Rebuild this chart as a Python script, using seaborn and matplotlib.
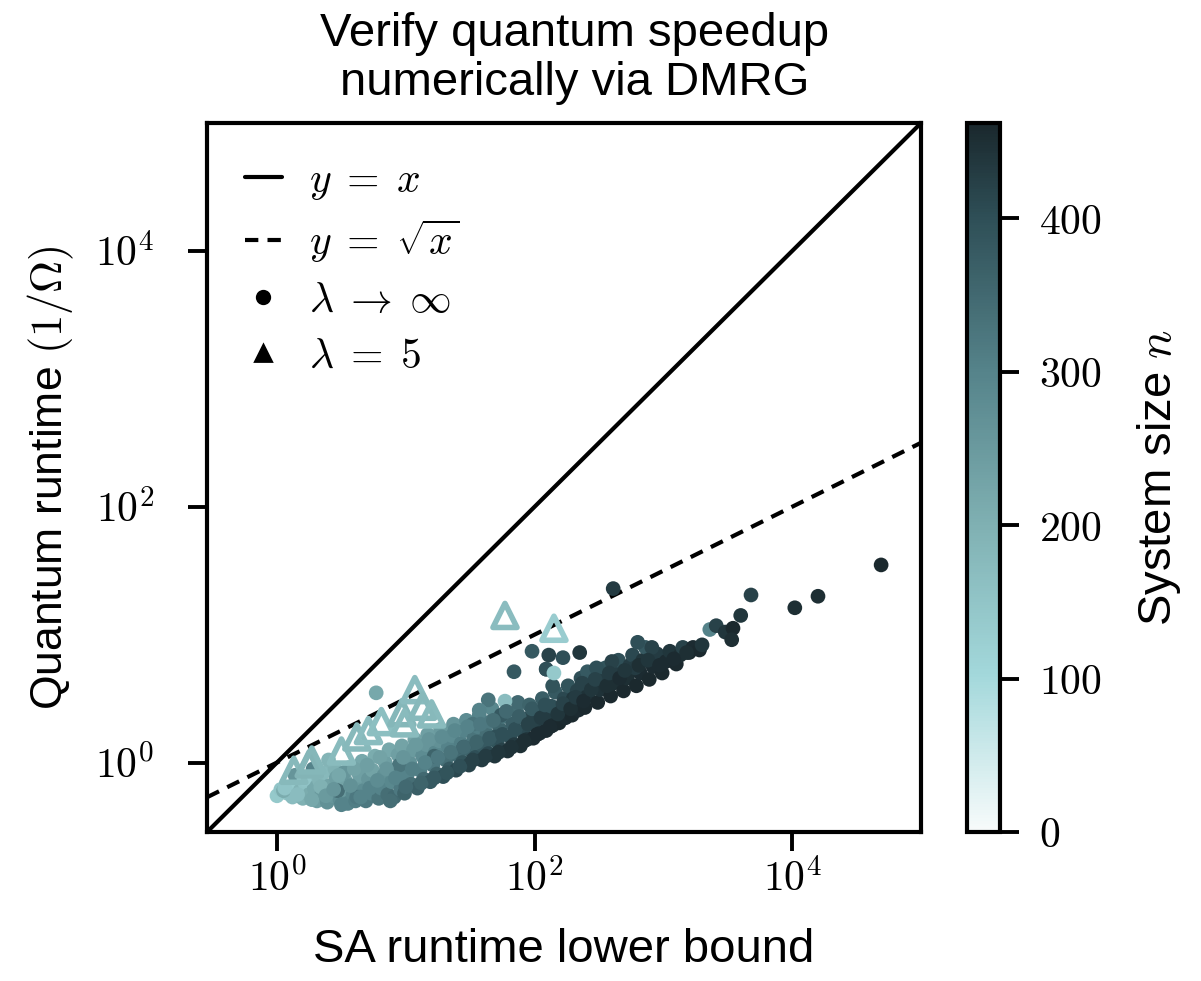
import numpy as np
import matplotlib
matplotlib.use("Agg")
import matplotlib.pyplot as plt
import seaborn as sns
import pandas as pd
from matplotlib.colors import LinearSegmentedColormap, Normalize
from matplotlib.lines import Line2D
from matplotlib.ticker import FixedLocator, FuncFormatter, NullLocator
import matplotlib.cm as cm

sns.set_theme(style="ticks")
plt.rcParams['font.family'] = ['Liberation Sans', 'DejaVu Sans']
plt.rcParams['mathtext.fontset'] = 'cm'
for key in ["text.color", "axes.labelcolor", "xtick.color", "ytick.color",
            "axes.edgecolor"]:
    plt.rcParams[key] = "black"

# ---------------- data (log10 of runtimes, system size n) ----------------
# lambda -> infinity (circles)
circ_log_sa = [
    0.00, 0.03, 0.08, 0.10, 0.12, 0.15, 0.18, 0.20, 0.22, 0.25, 0.26,
    0.29, 0.31, 0.33, 0.35, 0.36, 0.39, 0.41, 0.43, 0.45, 0.46, 0.40,
    0.49, 0.51, 0.53, 0.55, 0.56, 0.52, 0.59, 0.61, 0.63, 0.64, 0.66, 0.67,
    0.69, 0.71, 0.73, 0.74, 0.76, 0.77, 0.79, 0.81, 0.83, 0.84, 0.86, 0.87,
    0.89, 0.91, 0.93, 0.94, 0.96, 0.97, 0.99, 1.01, 1.03, 1.04, 1.06, 1.07,
    1.09, 1.11, 1.13, 1.14, 1.16, 1.17, 1.19, 1.21, 1.23, 1.24, 1.26, 1.27,
    1.29, 1.31, 1.33, 1.34, 1.36, 1.37, 1.39, 1.41, 1.43, 1.44, 1.46, 1.47,
    1.49, 1.51, 1.53, 1.54, 1.56, 1.57, 1.59, 1.61, 1.63, 1.64, 1.66, 1.67,
    1.69, 1.71, 1.73, 1.74, 1.76, 1.79, 1.81, 1.83, 1.84, 1.86, 1.87,
    1.89, 1.91, 1.93, 1.94, 1.96, 1.99, 2.01, 2.03, 2.04, 2.06,
    2.09, 2.11, 2.13, 2.14, 2.16, 2.19, 2.21, 2.23, 2.24, 2.26,
    2.29, 2.31, 2.33, 2.34, 2.36, 2.39, 2.41, 2.43, 2.45,
    2.49, 2.51, 2.53, 2.55, 2.59, 2.61, 2.63, 2.65, 2.69, 2.72, 2.74, 2.76,
    2.79, 2.82, 2.84, 2.86, 2.89, 2.92, 2.95, 2.99, 3.02, 3.05,
    3.10, 3.13, 3.15, 3.20, 3.23, 3.28, 3.30,
    2.09, 2.41, 2.48, 2.60, 2.78, 2.37, 2.14, 1.64, 1.57, 1.77, 1.74, 1.52,
    1.98, 2.11, 2.22, 2.35, 1.84, 2.09, 2.15, 0.77, 2.61, 2.80, 2.91,
    3.36, 3.41, 3.48, 3.54, 3.53, 3.60, 3.68, 4.02, 4.20, 4.69,
    0.05, 0.14, 0.28, 0.47, 0.62, 0.95, 1.22, 1.45, 1.70, 1.95, 2.30,
    0.06, 0.16, 0.21, 0.27, 0.34, 0.38, 0.44, 0.48, 0.50, 0.57, 0.60, 0.65,
    0.70, 0.72, 0.78, 0.80, 0.85, 0.88, 0.92, 0.98, 1.00, 1.05, 1.08, 1.12,
    1.15, 1.18, 1.22, 1.25, 1.28, 1.32, 1.35, 1.38, 1.42, 1.45, 1.48, 1.52,
    1.55, 1.58, 1.62, 1.65, 1.68, 1.72, 1.75, 1.78, 1.82, 1.85, 1.88, 1.92,
    1.95, 1.98, 2.02, 2.05, 2.08, 2.12, 2.18, 2.22, 2.28, 2.32, 2.38, 2.44,
    2.47, 2.56, 2.58, 2.66, 2.70, 2.81, 2.88, 2.97, 3.08, 3.18,
]
circ_log_q = [
    -0.26, -0.21, -0.24, -0.19, -0.27, -0.15, -0.22, -0.28, -0.17, -0.25, -0.12,
    -0.20, -0.30, -0.14, -0.24, -0.08, -0.31, -0.18, -0.26, -0.05, -0.12, 0.02,
    -0.29, -0.21, -0.14, -0.32, -0.04, -0.08, -0.25, -0.30, -0.17, -0.10, 0.01, -0.22,
    -0.30, -0.13, -0.24, -0.06, 0.05, -0.18, -0.28, -0.20, -0.10, 0.00, -0.25, 0.10,
    -0.15, -0.27, -0.05, 0.06, -0.21, 0.13, -0.24, -0.10, 0.00, -0.17, 0.10, 0.18,
    -0.20, -0.06, 0.05, -0.13, 0.14, 0.22, -0.15, -0.02, 0.08, -0.09, 0.17, 0.26,
    -0.11, 0.02, 0.12, -0.05, 0.21, 0.30, -0.06, 0.05, 0.15, 0.00, 0.25, 0.33,
    -0.02, 0.09, 0.19, 0.04, 0.28, 0.37, 0.02, 0.12, 0.22, 0.07, 0.32, 0.42,
    0.05, 0.16, 0.26, 0.10, 0.36, 0.09, 0.20, 0.30, 0.14, 0.40, 0.47,
    0.13, 0.24, 0.34, 0.18, 0.45, 0.19, 0.29, 0.39, 0.23, 0.50,
    0.25, 0.35, 0.44, 0.29, 0.55, 0.31, 0.40, 0.50, 0.35, 0.60,
    0.37, 0.46, 0.56, 0.41, 0.66, 0.43, 0.52, 0.62, 0.70,
    0.47, 0.57, 0.66, 0.74, 0.52, 0.62, 0.71, 0.80, 0.56, 0.66, 0.76, 0.84,
    0.60, 0.70, 0.80, 0.90, 0.65, 0.75, 0.85, 0.70, 0.79, 0.87,
    0.77, 0.84, 0.90, 0.86, 0.90, 0.88, 0.92,
    0.73, 0.71, 0.74, 0.79, 0.74, 0.62, 0.60, 0.49, 0.41, 0.48, 0.37, 0.30,
    0.87, 0.84, 0.82, 0.86, 0.71, 0.73, 0.70, 0.545, 1.36, 0.94, 0.90,
    1.04, 1.07, 1.02, 1.05, 0.96, 1.15, 1.31, 1.21, 1.30, 1.545,
    -0.22, -0.10, -0.05, -0.22, -0.27, -0.02, 0.05, 0.12, 0.20, 0.34, 0.50,
    -0.20, -0.25, -0.13, -0.29, -0.19, -0.26, -0.21, -0.10, -0.33, -0.18, -0.05, -0.27,
    -0.02, -0.20, -0.14, 0.04, -0.05, -0.30, -0.12, 0.04, -0.19, -0.05, 0.14, -0.16,
    0.00, 0.18, -0.12, 0.04, 0.20, -0.08, 0.08, 0.25, -0.03, 0.12, 0.28, 0.02,
    0.16, 0.30, 0.05, 0.19, 0.33, 0.08, 0.22, 0.40, 0.12, 0.26, 0.36, 0.17,
    0.30, 0.42, 0.22, 0.35, 0.45, 0.28, 0.38, 0.46, 0.42, 0.51, 0.48, 0.57,
    0.65, 0.60, 0.70, 0.66, 0.72, 0.76, 0.80, 0.76, 0.81, 0.86,
]
circ_n = [
    140, 150, 160, 150, 170, 140, 190, 200, 160, 210, 170,
    220, 240, 190, 250, 180, 270, 230, 260, 200, 240, 190,
    280, 250, 230, 300, 210, 260, 290, 310, 250, 240, 220, 280,
    320, 260, 300, 230, 210, 290, 330, 300, 270, 240, 340, 220,
    290, 350, 260, 240, 320, 230, 360, 300, 270, 340, 250, 230,
    370, 310, 280, 350, 260, 240, 380, 320, 290, 360, 270, 250,
    400, 340, 300, 380, 280, 260, 410, 350, 310, 390, 300, 280,
    420, 360, 330, 400, 310, 300, 430, 380, 340, 410, 320, 290,
    440, 390, 360, 420, 330, 445, 400, 370, 430, 340, 350,
    450, 410, 380, 440, 360, 455, 420, 390, 445, 370,
    455, 430, 400, 450, 380, 460, 435, 410, 455, 390,
    460, 440, 420, 455, 400, 460, 445, 420, 410,
    460, 445, 430, 390, 460, 450, 430, 400, 460, 450, 430, 410,
    460, 455, 440, 380, 460, 455, 430, 460, 455, 440,
    460, 450, 420, 460, 455, 460, 440,
    400, 380, 400, 420, 430, 420, 390, 330, 300, 170, 380, 330,
    380, 420, 400, 440, 380, 400, 140, 220, 430, 400, 420,
    300, 420, 440, 460, 450, 440, 420, 450, 450, 460,
    210, 260, 300, 340, 320, 330, 360, 380, 400, 420, 440,
    150, 170, 150, 220, 200, 250, 260, 220, 300, 270, 230, 300,
    240, 300, 280, 230, 260, 340, 300, 260, 350, 310, 250, 360,
    300, 260, 380, 320, 280, 390, 330, 290, 400, 350, 300, 420,
    360, 320, 430, 380, 340, 440, 400, 350, 445, 400, 370, 450,
    420, 380, 455, 430, 400, 455, 440, 420, 450, 430, 455, 440,
    420, 450, 430, 455, 440, 450, 440, 455, 455, 450,
]

# lambda = 5 (hollow triangles)
tri_log_sa = [0.13, 0.25, 0.27, 0.50, 0.62, 0.71, 0.81, 0.97, 0.99, 1.07, 1.13, 1.20, 1.77, 2.15]
tri_log_q = [-0.06, -0.01, 0.02, 0.09, 0.20, 0.25, 0.32, 0.39, 0.31, 0.57, 0.44, 0.38, 1.15, 1.05]
tri_n = [180, 190, 185, 175, 180, 170, 165, 185, 175, 170, 180, 175, 170, 130]

n_max = 462
x_lim = (10 ** -0.543, 1e5)

# ---------------- style ----------------
cmap = LinearSegmentedColormap.from_list(
    "sysn",
    [(0.0, "#f7fbfb"), (0.22, "#a3d8db"), (0.43, "#80b1b3"),
     (0.65, "#55838a"), (0.87, "#2e4e56"), (1.0, "#1a282d")])
norm = Normalize(0, n_max)

circ_df = pd.DataFrame({"sa": np.power(10.0, circ_log_sa),
                        "q": np.power(10.0, circ_log_q), "n": circ_n})
tri_df = pd.DataFrame({"sa": np.power(10.0, tri_log_sa),
                       "q": np.power(10.0, tri_log_q), "n": tri_n})

fig = plt.figure(figsize=(6.005, 4.905), dpi=200)
ax = fig.add_axes([0.1724, 0.1519, 0.5945, 0.7227])
cax = fig.add_axes([0.8052, 0.1519, 0.0275, 0.7227])

ax.set_xscale("log")
ax.set_yscale("log")

xs = np.array(x_lim)
ax.plot(xs, xs, color="black", lw=1.5, zorder=1)
ax.plot(xs, np.sqrt(xs), color="black", lw=1.5, ls=(0, (3.2, 2.2)), zorder=1)

sns.scatterplot(data=circ_df, x="sa", y="q", hue="n", palette=cmap,
                hue_norm=norm, s=28, linewidth=0, marker="o",
                legend=False, ax=ax, zorder=2)
sns.scatterplot(data=tri_df, x="sa", y="q", hue="n", palette=cmap,
                hue_norm=norm, s=75, marker="^", legend=False, ax=ax, zorder=3)
tri_coll = ax.collections[-1]
tri_coll.set_edgecolors(tri_coll.get_facecolors())
tri_coll.set_facecolors("none")
tri_coll.set_linewidths(2.0)

ax.set_xlim(*x_lim)
ax.set_ylim(*x_lim)

logfmt = FuncFormatter(lambda v, p: r"$10^{%d}$" % int(round(np.log10(v))))
for axis in (ax.xaxis, ax.yaxis):
    axis.set_major_locator(FixedLocator([1, 1e2, 1e4]))
    axis.set_minor_locator(NullLocator())
    axis.set_major_formatter(logfmt)
ax.tick_params(axis="both", which="major", length=7, width=1.4,
               labelsize=15, color="black")
ax.tick_params(axis="x", pad=3)
ax.tick_params(axis="y", pad=12)
for sp in ax.spines.values():
    sp.set_linewidth(1.5)
    sp.set_color("black")

ax.set_xlabel("SA runtime lower bound", fontsize=17, labelpad=10)
ax.set_ylabel(r"Quantum runtime $(1/\Omega)$", fontsize=16, labelpad=7)
ax.set_title("Verify quantum speedup\nnumerically via DMRG", fontsize=17,
             x=0.515, pad=10, linespacing=1.15)

handles = [
    Line2D([], [], color="black", lw=1.5),
    Line2D([], [], color="black", lw=1.5, ls=(0, (3.2, 2.2))),
    Line2D([], [], color="black", lw=0, marker="o", markersize=4.5),
    Line2D([], [], color="black", lw=0, marker="^", markersize=6),
]
labels = [r"$y\;=\;x$", r"$y\;=\;\sqrt{x}$", r"$\lambda\;\to\;\infty$",
          r"$\lambda\;=\;5$"]
ax.legend(handles, labels, loc="upper left", frameon=False, fontsize=15,
          handlelength=0.9, handletextpad=0.65, labelspacing=0.38,
          borderaxespad=0.5)

sm = cm.ScalarMappable(norm=norm, cmap=cmap)
cb = fig.colorbar(sm, cax=cax)
cb.set_ticks([0, 100, 200, 300, 400])
cb.ax.yaxis.set_major_formatter(FuncFormatter(lambda v, p: r"$%d$" % int(v)))
cb.ax.tick_params(length=7, width=1.4, labelsize=15, pad=7, color="black")
cb.outline.set_linewidth(1.5)
cb.outline.set_edgecolor("black")
cb.set_label(r"System size $n$", fontsize=17, labelpad=12)
cb.ax.minorticks_off()

fig.savefig("out.png", dpi=200)
